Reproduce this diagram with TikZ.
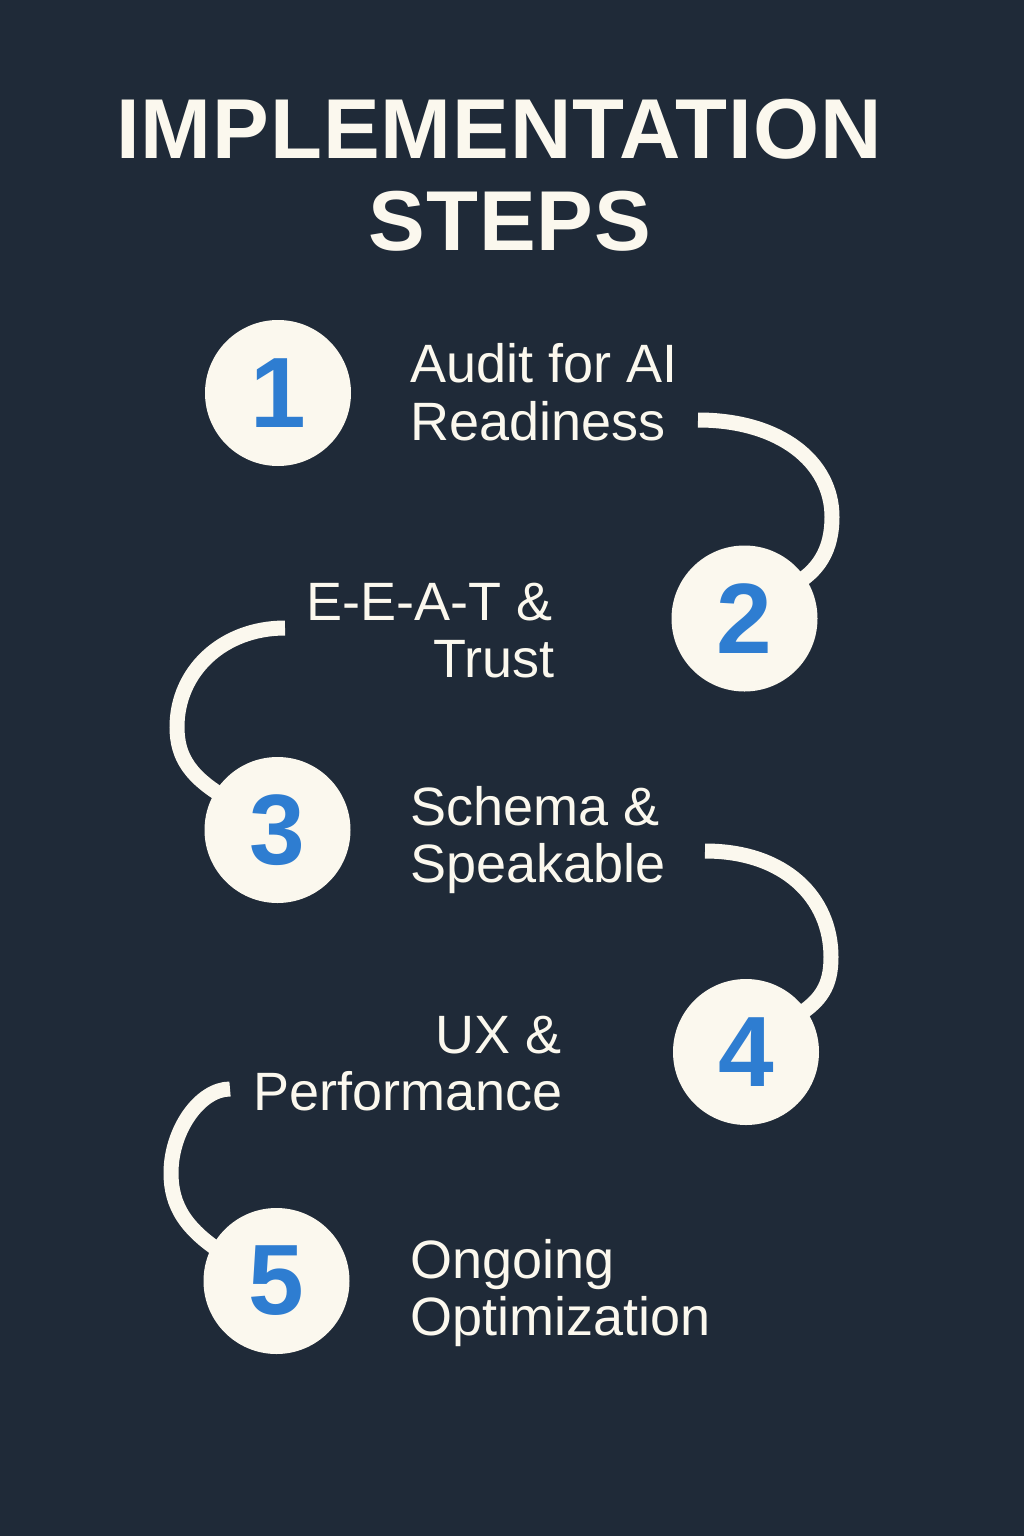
\documentclass[tikz,border=0pt]{standalone}
\usepackage{fontspec}
\setmainfont{Liberation Sans}
\usetikzlibrary{calc}
\definecolor{bg}{HTML}{1F2A38}
\definecolor{cream}{HTML}{FBF8EE}
\definecolor{stepblue}{HTML}{2E7DD1}
\pgfdeclarelayer{backdrop}
\pgfdeclarelayer{links}
\pgfsetlayers{backdrop,links,main}
\begin{document}
\begin{tikzpicture}[x=1pt,y=-1pt,
  stepcircle/.style={circle, fill=cream, minimum size=146pt, inner sep=0pt,
    text=stepblue, font=\fontsize{100}{100}\selectfont\bfseries},
  steplabel/.style={text=cream, inner sep=0pt, font=\fontsize{54}{54}\selectfont},
  titletext/.style={text=cream, inner sep=0pt,
    font=\fontsize{85}{85}\selectfont\bfseries\addfontfeature{LetterSpace=1.2}},
  link/.style={draw=cream, line width=15pt}
]
\begin{pgfonlayer}{backdrop}
  \fill[bg] (0,0) rectangle (1024,1536);
\end{pgfonlayer}
\useasboundingbox (0,0) rectangle (1024,1536);

% title
\node[titletext, anchor=base] (t1) at (499,158) {IMPLEMENTATION};
\node[titletext, anchor=base] (t2) at (510,250) {STEPS};

% numbered steps
\node[stepcircle] (c1) at (278,393) {1};
\node[stepcircle] (c2) at (744.5,618.5) {2};
\node[stepcircle] (c3) at (277.5,830) {3};
\node[stepcircle] (c4) at (746,1052) {4};
\node[stepcircle] (c5) at (276.5,1281) {5};

% step labels
\node[steplabel, anchor=base west] (l1a) at (410,382) {Audit for AI};
\node[steplabel, anchor=base west] (l1b) at (410,440) {Readiness};
\node[steplabel, anchor=base east] (l2a) at (553,620) {E-E-A-T \&};
\node[steplabel, anchor=base east] (l2b) at (555,677) {Trust};
\node[steplabel, anchor=base west] (l3a) at (410,825) {Schema \&};
\node[steplabel, anchor=base west] (l3b) at (410,882) {Speakable};
\node[steplabel, anchor=base east] (l4a) at (562,1053) {UX \&};
\node[steplabel, anchor=base east] (l4b) at (563,1110) {Performance};
\node[steplabel, anchor=base west] (l5a) at (410,1278) {Ongoing};
\node[steplabel, anchor=base west] (l5b) at (410,1335) {Optimization};

% free ends of the connecting arcs
\coordinate (s12) at (698,420);
\coordinate (s23) at (285,628);
\coordinate (s34) at (705,851);
\coordinate (s45) at (230,1089);

% connecting arcs, tucked under the circles
\begin{pgfonlayer}{links}
  \draw[link] (s12) .. controls (780,420) and (832,462) .. (832,517)
    .. controls (832,548) and (820,572) .. ($(c2.center)!0.75!(c2.35)$);
  \draw[link] (s23) .. controls (222,628) and (177,672) .. (177,727)
    .. controls (177,757) and (190,778) .. ($(c3.center)!0.75!(c3.148)$);
  \draw[link] (s34) .. controls (785,851) and (831,898) .. (831,957)
    .. controls (831,985) and (822,1002) .. ($(c4.center)!0.75!(c4.36)$);
  \draw[link] (s45) .. controls (200,1089) and (171,1130) .. (171,1173)
    .. controls (171,1205) and (185,1230) .. ($(c5.center)!0.75!(c5.153)$);
\end{pgfonlayer}
\end{tikzpicture}
\end{document}
